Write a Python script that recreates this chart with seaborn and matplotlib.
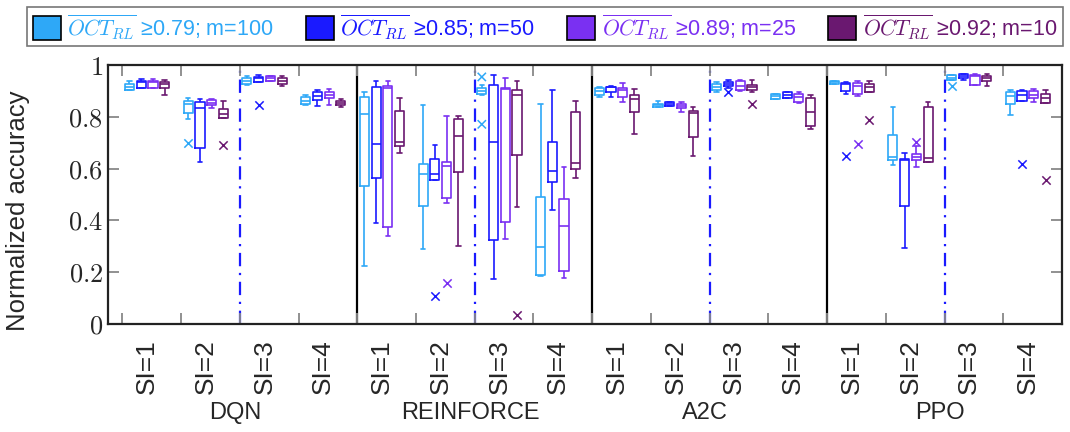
import numpy as np
import pandas as pd
import matplotlib
matplotlib.use("Agg")
import matplotlib.pyplot as plt
import seaborn as sns
from matplotlib.patches import Patch

# five-number summaries (low whisker, q1, median, q3, high whisker)
# order inside each list: SI=1..4, and for each SI the m=100, 50, 25, 10 boxes
dqn = [
    (0.903, 0.903, 0.914, 0.925, 0.939), (0.912, 0.912, 0.935, 0.939, 0.945),
    (0.912, 0.912, 0.935, 0.939, 0.945), (0.884, 0.912, 0.927, 0.934, 0.942),
    (0.792, 0.816, 0.849, 0.862, 0.871), (0.624, 0.678, 0.833, 0.856, 0.870),
    (0.833, 0.846, 0.855, 0.864, 0.869), (0.795, 0.795, 0.812, 0.830, 0.860),
    (0.923, 0.928, 0.940, 0.949, 0.959), (0.936, 0.936, 0.948, 0.955, 0.961),
    (0.938, 0.938, 0.949, 0.959, 0.959), (0.919, 0.928, 0.940, 0.949, 0.959),
    (0.846, 0.851, 0.862, 0.875, 0.884), (0.843, 0.864, 0.879, 0.895, 0.902),
    (0.846, 0.871, 0.886, 0.894, 0.906), (0.838, 0.846, 0.853, 0.861, 0.869),
]
reinforce = [
    (0.224, 0.534, 0.810, 0.875, 0.897), (0.391, 0.563, 0.694, 0.915, 0.937),
    (0.338, 0.376, 0.913, 0.919, 0.940), (0.662, 0.686, 0.704, 0.822, 0.871),
    (0.291, 0.456, 0.578, 0.617, 0.847), (0.555, 0.555, 0.581, 0.639, 0.691),
    (0.469, 0.488, 0.611, 0.627, 0.804), (0.302, 0.586, 0.726, 0.793, 0.804),
    (0.884, 0.888, 0.900, 0.910, 0.923), (0.172, 0.326, 0.703, 0.924, 0.961),
    (0.327, 0.392, 0.906, 0.910, 0.951), (0.451, 0.654, 0.885, 0.902, 0.940),
    (0.186, 0.191, 0.298, 0.492, 0.848), (0.440, 0.548, 0.589, 0.702, 0.902),
    (0.179, 0.203, 0.377, 0.481, 0.608), (0.563, 0.597, 0.620, 0.820, 0.862),
]
a2c = [
    (0.878, 0.884, 0.900, 0.910, 0.916), (0.875, 0.894, 0.914, 0.917, 0.920),
    (0.857, 0.878, 0.902, 0.913, 0.931), (0.734, 0.817, 0.869, 0.884, 0.908),
    (0.838, 0.838, 0.844, 0.851, 0.862), (0.843, 0.843, 0.849, 0.856, 0.856),
    (0.817, 0.833, 0.842, 0.848, 0.856), (0.650, 0.721, 0.814, 0.824, 0.837),
    (0.894, 0.905, 0.915, 0.925, 0.934), (0.910, 0.919, 0.927, 0.936, 0.943),
    (0.900, 0.903, 0.918, 0.938, 0.942), (0.895, 0.902, 0.915, 0.923, 0.942),
    (0.869, 0.869, 0.879, 0.888, 0.888), (0.874, 0.874, 0.884, 0.894, 0.897),
    (0.852, 0.859, 0.875, 0.887, 0.897), (0.752, 0.764, 0.819, 0.871, 0.885),
]
ppo = [
    (0.925, 0.925, 0.934, 0.940, 0.940), (0.888, 0.900, 0.925, 0.932, 0.933),
    (0.879, 0.887, 0.919, 0.929, 0.938), (0.897, 0.897, 0.915, 0.927, 0.937),
    (0.613, 0.635, 0.643, 0.730, 0.836), (0.292, 0.456, 0.632, 0.637, 0.662),
    (0.606, 0.632, 0.645, 0.657, 0.688), (0.624, 0.624, 0.640, 0.836, 0.858),
    (0.942, 0.942, 0.951, 0.961, 0.961), (0.944, 0.949, 0.956, 0.964, 0.964),
    (0.923, 0.923, 0.957, 0.961, 0.964), (0.919, 0.938, 0.950, 0.959, 0.966),
    (0.807, 0.848, 0.882, 0.895, 0.905), (0.862, 0.862, 0.884, 0.900, 0.905),
    (0.859, 0.872, 0.886, 0.901, 0.907), (0.852, 0.852, 0.872, 0.890, 0.902),
]

# outliers: (algorithm, SI, m, value)
outliers = [
    ("DQN", 2, 100, 0.698), ("DQN", 2, 10, 0.690), ("DQN", 3, 50, 0.846),
    ("REINFORCE", 2, 50, 0.109), ("REINFORCE", 2, 25, 0.158),
    ("REINFORCE", 3, 100, 0.954), ("REINFORCE", 3, 100, 0.771),
    ("REINFORCE", 3, 10, 0.035),
    ("A2C", 3, 50, 0.897), ("A2C", 3, 10, 0.848),
    ("PPO", 1, 50, 0.649), ("PPO", 1, 25, 0.694), ("PPO", 1, 10, 0.789),
    ("PPO", 2, 25, 0.704), ("PPO", 3, 100, 0.919),
    ("PPO", 4, 50, 0.618), ("PPO", 4, 10, 0.557),
]

algos = ["DQN", "REINFORCE", "A2C", "PPO"]
si_levels = [1, 2, 3, 4]
m_levels = [100, 50, 25, 10]
thresholds = ["0.79", "0.85", "0.89", "0.92"]
colors = ["#2ea8f7", "#1a1aff", "#7a30f2", "#6a1870"]

stats = {"DQN": dqn, "REINFORCE": reinforce, "A2C": a2c, "PPO": ppo}
rows = []
for alg in algos:
    for i, s in enumerate(stats[alg]):
        si = si_levels[i // 4]
        m = m_levels[i % 4]
        for v in s:
            rows.append({"grp": f"{alg}-{si}", "m": m, "acc": v})
df = pd.DataFrame(rows)
df_out = pd.DataFrame([{"grp": f"{a}-{s}", "m": m, "acc": v} for a, s, m, v in outliers])
order = [f"{a}-{s}" for a in algos for s in si_levels]

sns.set_style("white")
plt.rcParams["font.family"] = ["Liberation Sans", "DejaVu Sans"]
plt.rcParams["mathtext.fontset"] = "cm"

fig, ax = plt.subplots(figsize=(10.7, 4.32), dpi=100)
fig.subplots_adjust(left=0.1007, right=0.9925, bottom=0.25, top=0.8495)

pal = dict(zip(m_levels, colors))
sns.boxplot(data=df, x="grp", y="acc", hue="m", order=order, hue_order=m_levels,
            palette=pal, fill=False, whis=(0, 100), showfliers=False,
            width=0.8, gap=0.22, linewidth=1.2, legend=False, ax=ax)
sns.stripplot(data=df_out, x="grp", y="acc", hue="m", order=order, hue_order=m_levels,
              palette=pal, dodge=True, jitter=False, marker="x", size=6,
              linewidth=1.1, legend=False, ax=ax)

# separators
off = 0.42
for k in [2, 6, 10, 14]:
    ax.axvline(k - off, color="#1a1aff", lw=1.6, ls=(0, (6, 3, 1, 3)), zorder=0)
for k in [4, 8, 12]:
    ax.axvline(k - off, color="black", lw=1.6, zorder=0)

ax.set_xlim(-0.25 - off, 16 - off)
ax.set_ylim(0, 1)
ax.set_xticks(range(16))
ax.set_xticklabels([f"SI={s}" for a in algos for s in si_levels], rotation=90, fontsize=19)
ax.set_xticks([k - off for k in range(17)], minor=True)
ax.tick_params(axis="x", which="major", length=0, pad=11)
ax.tick_params(axis="x", which="minor", direction="in", length=8, width=1.3,
               color="#888888", top=True, bottom=True)
ax.set_yticks(np.arange(0, 1.01, 0.2))
ax.set_yticklabels(["$0$", "$0.2$", "$0.4$", "$0.6$", "$0.8$", "$1$"], fontsize=19)
ax.tick_params(axis="y", direction="in", length=8, width=1.3, color="#888888",
               left=True, right=True)
ax.set_xlabel("")
ax.set_ylabel("Normalized accuracy", fontsize=18.5)
ax.yaxis.set_label_coords(-0.081, 0.436)
for sp in ax.spines.values():
    sp.set_linewidth(1.6)
    sp.set_color("#222222")

for i, alg in enumerate(algos):
    ax.text(i * 4 + 1.5, -0.3, alg, transform=ax.get_xaxis_transform(),
            ha="center", va="top", fontsize=17)

handles = [Patch(facecolor=c, edgecolor="black", lw=1.2) for c in colors]
labels = [rf"$\overline{{OCT_{{RL}}}}$ " + "\u2265" + f"{t}; m={m}"
          for t, m in zip(thresholds, m_levels)]
leg = fig.legend(handles, labels, loc="upper center", ncol=4,
                 bbox_to_anchor=(545 / 1070, 1 - 7 / 432),
                 frameon=True, fancybox=False, edgecolor="#555555", fontsize=15.5,
                 handlelength=1.3, handleheight=1.3, handletextpad=0.3,
                 columnspacing=1.5, borderpad=0.25, borderaxespad=0, labelcolor=colors)
leg.get_frame().set_linewidth(1.2)

fig.savefig("out.png", dpi=100)
